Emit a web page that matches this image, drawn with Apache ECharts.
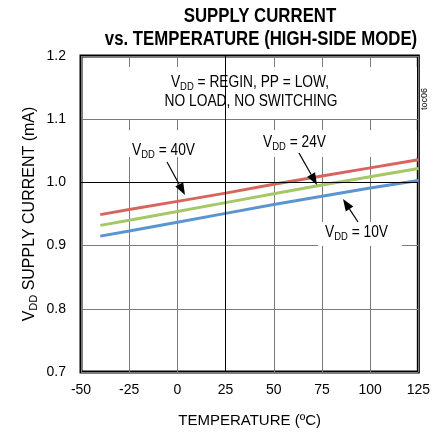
<!DOCTYPE html>
<html><head><meta charset="utf-8">
<script src="https://cdn.jsdelivr.net/npm/echarts@6/dist/echarts.min.js"></script>
<style>html,body{margin:0;padding:0;background:#fff}#c{width:433px;height:433px}</style>
</head><body><div id="c"></div>
<script>
// ---- data ----
const temps = [-40, -25, 0, 25, 50, 75, 100, 125];
const vdd40 = [0.949, 0.957, 0.970, 0.983, 0.997, 1.010, 1.023, 1.036];
const vdd24 = [0.932, 0.940, 0.954, 0.968, 0.982, 0.996, 1.009, 1.022];
const vdd10 = [0.915, 0.923, 0.937, 0.951, 0.965, 0.978, 0.991, 1.003];
const xTickMin = -50, xTickMax = 125, xTickStep = 25;
const yTickMin = 0.7, yTickMax = 1.2, yTickStep = 0.1;
const seriesNames = ['VDD = 10V', 'VDD = 24V', 'VDD = 40V'];

const FF = "'Liberation Sans Narrow','Arial Narrow','Liberation Sans',Arial,sans-serif";
const COLORS = { r: '#d8655d', g: '#a5c866', b: '#5b95d0' };
const SX = 0.86;

const chart = echarts.init(document.getElementById('c'), null, { renderer: 'canvas' });

function pairs(ys) { return temps.map((t, i) => [t, ys[i]]); }

function arrow(x1, y1, x2, y2) {
  const dx = x2 - x1, dy = y2 - y1, L = Math.hypot(dx, dy);
  const ux = dx / L, uy = dy / L, hl = 12, hw = 4.5;
  const bx = x2 - ux * hl, by = y2 - uy * hl;
  return [
    { type: 'line', z: 5, shape: { x1, y1, x2: bx, y2: by }, style: { stroke: '#000', lineWidth: 1.2 } },
    { type: 'polygon', z: 5, shape: { points: [[x2, y2], [bx - uy * hw, by + ux * hw], [bx + uy * hw, by - ux * hw]] }, style: { fill: '#000' } }
  ];
}

const rich = {
  n: { fontSize: 16, fontFamily: FF, color: '#000' },
  s: { fontSize: 11, fontFamily: FF, color: '#000', padding: [8, 0, 0, 0] }
};
function vlabel(x, y, txt) {
  return { type: 'text', z: 4, x, y, scaleX: SX, style: { text: '{n|V}{s|DD}{n| = ' + txt + '}', rich, verticalAlign: 'middle', align: 'left' } };
}
const whiteRect = (x, y, w, h) => ({ type: 'rect', z: 1, shape: { x, y, width: w, height: h }, style: { fill: '#fff' } });

const option = {
  backgroundColor: '#fff',
  animation: false,
  grid: { left: 81, right: 14, top: 56, bottom: 58, show: true, borderColor: '#000', borderWidth: 3, backgroundColor: 'transparent' },
  xAxis: {
    type: 'value', min: xTickMin, max: xTickMax, interval: xTickStep,
    axisLine: { show: false }, axisTick: { show: false },
    splitLine: { show: true, lineStyle: { color: '#7a7a7a', width: 1 } },
    axisLabel: { fontFamily: FF, fontSize: 14, color: '#000', margin: 11 },
    name: 'TEMPERATURE (ºC)', nameLocation: 'middle', nameGap: 41,
    nameTextStyle: { fontFamily: FF, fontSize: 15, color: '#000' }
  },
  yAxis: {
    type: 'value', min: yTickMin, max: yTickMax, interval: yTickStep,
    axisLine: { show: false }, axisTick: { show: false },
    splitLine: { show: true, lineStyle: { color: '#7a7a7a', width: 1 } },
    axisLabel: { fontFamily: FF, fontSize: 14, color: '#000', margin: 15, formatter: v => v.toFixed(1) },
    name: '{n|V}{s|DD}{n| SUPPLY CURRENT (mA)}', nameLocation: 'middle', nameGap: 42,
    nameMoveOverlap: false,
    nameTextStyle: { rich }
  },
  series: [
    { type: 'line', data: [], silent: true, z: 2,
      markLine: { silent: true, symbol: 'none', label: { show: false },
        lineStyle: { color: '#000', width: 1, type: 'solid' },
        data: [{ xAxis: 25 }, { yAxis: 1.0 }] } },
    { name: seriesNames[0], type: 'line', data: pairs(vdd10), showSymbol: false, z: 3, lineStyle: { color: COLORS.b, width: 3 }, itemStyle: { color: COLORS.b } },
    { name: seriesNames[1], type: 'line', data: pairs(vdd24), showSymbol: false, z: 3, lineStyle: { color: COLORS.g, width: 3 }, itemStyle: { color: COLORS.g } },
    { name: seriesNames[2], type: 'line', data: pairs(vdd40), showSymbol: false, z: 3, lineStyle: { color: COLORS.r, width: 3 }, itemStyle: { color: COLORS.r } }
  ],
  graphic: [
    whiteRect(83, 67, 334, 52),
    whiteRect(83, 130, 334, 27),
    whiteRect(318, 222, 84, 24),
    { type: 'text', z: 4, x: 260, y: 16, scaleX: 0.84, style: { text: 'SUPPLY CURRENT', font: 'bold 20px ' + FF, fill: '#000', align: 'center', verticalAlign: 'middle' } },
    { type: 'text', z: 4, x: 261, y: 39, scaleX: 0.84, style: { text: 'vs. TEMPERATURE (HIGH-SIDE MODE)', font: 'bold 20px ' + FF, fill: '#000', align: 'center', verticalAlign: 'middle' } },
    { type: 'text', z: 4, x: 250, y: 83, scaleX: SX, style: { text: '{n|V}{s|DD}{n| = REGIN, PP = LOW,}', rich, align: 'center', verticalAlign: 'middle' } },
    { type: 'text', z: 4, x: 251, y: 102, scaleX: SX, style: { text: 'NO LOAD, NO SWITCHING', font: '16px ' + FF, fill: '#000', align: 'center', verticalAlign: 'middle' } },
    { type: 'text', z: 4, x: 425, y: 99, rotation: Math.PI / 2, style: { text: 'toc06', font: '9px ' + FF, fill: '#000', align: 'center', verticalAlign: 'middle' } },
    vlabel(132, 151, '40V'),
    vlabel(263, 143, '24V'),
    vlabel(325, 233, '10V'),
    ...arrow(167, 162, 185, 195),
    ...arrow(299, 153, 317, 185),
    ...arrow(358, 222, 343, 199)
  ]
};
chart.setOption(option);
</script></body></html>
